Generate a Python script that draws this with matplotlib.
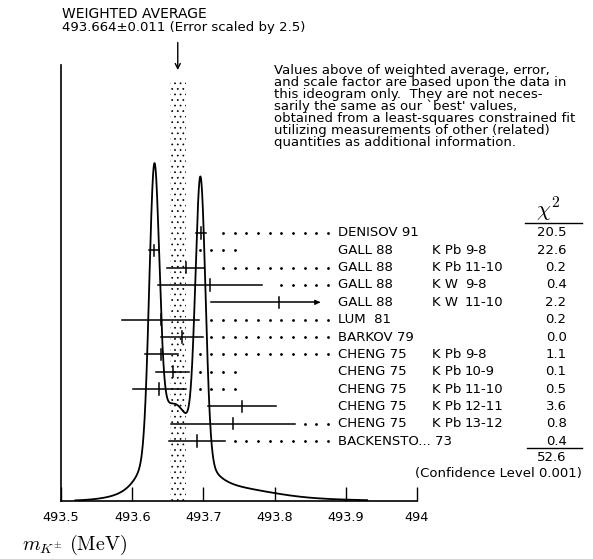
import numpy as np
import matplotlib
matplotlib.use("Agg")
import matplotlib.pyplot as plt

plt.rcParams["font.family"] = ["DejaVu Sans"]
plt.rcParams["mathtext.fontset"] = "cm"
plt.rcParams["hatch.linewidth"] = 0.5

# measurements (MeV)
names = ["DENISOV 91", "GALL 88", "GALL 88", "GALL 88", "GALL 88", "LUM  81",
         "BARKOV 79", "CHENG 75", "CHENG 75", "CHENG 75", "CHENG 75", "CHENG 75",
         "BACKENSTO... 73"]
targets = ["", "K Pb", "K Pb", "K W", "K W", "", "", "K Pb", "K Pb", "K Pb", "K Pb", "K Pb", ""]
transitions = ["", "9-8", "11-10", "9-8", "11-10", "", "", "9-8", "10-9", "11-10", "12-11", "13-12", ""]
values = [493.696, 493.631, 493.675, 493.709, 493.806, 493.640, 493.670,
          493.641, 493.657, 493.638, 493.754, 493.742, 493.691]
errors = [0.007, 0.007, 0.026, 0.073, 0.095, 0.054, 0.029,
          0.023, 0.023, 0.037, 0.048, 0.087, 0.040]
chi2 = ["20.5", "22.6", "0.2", "0.4", "2.2", "0.2", "0.0",
        "1.1", "0.1", "0.5", "3.6", "0.8", "0.4"]
leaders = ["full", "short", "full", "full", "full", "full", "full",
           "full", "short", "short", "none", "full", "full"]

avg, avg_err = 493.664, 0.011
chi2_total = "52.6"
conf_level = "0.001"

W, H = 593, 559
fig = plt.figure(figsize=(W / 100, H / 100), dpi=100)
ax = fig.add_axes([61 / W, 58 / H, 356 / W, 436 / H])
ax.set_xlim(493.5, 494.0)
ax.set_ylim(0, 1)

# ideogram: gaussians with area ~ 1/sigma
x = np.linspace(493.52, 493.93, 2000)
v = np.array(values)
e = np.array(errors)
curve = (np.exp(-0.5 * ((x[:, None] - v) / e) ** 2) / e ** 2).sum(axis=1)
curve = curve / curve.max() * 0.775
ax.plot(x, curve, color="black", lw=1.3)

# weighted average band
ax.fill_betweenx([0, 0.96], avg - avg_err, avg + avg_err, facecolor="white",
                 edgecolor="black", hatch="...", linewidth=0)
ax.annotate("", xy=(avg, 0.982), xytext=(avg, 1.058), xycoords="data",
            arrowprops=dict(arrowstyle="->", color="black", lw=1.0,
                            mutation_scale=9), annotation_clip=False)

for s in ["top", "right"]:
    ax.spines[s].set_visible(False)
ax.spines["left"].set_linewidth(1.2)
ax.spines["bottom"].set_linewidth(1.2)
ax.set_yticks([])
ax.set_xticks([493.5, 493.6, 493.7, 493.8, 493.9, 494.0])
ax.set_xticklabels(["493.5", "493.6", "493.7", "493.8", "493.9", "494"])
ax.tick_params(axis="x", direction="in", length=10, width=1.0, labelsize=9.3, pad=7)

# rows on a second y scale
ax2 = ax.twinx()
ax2.set_ylim(15.46, -9.69)
ax2.axis("off")

fs = 9.5
x_cut = 493.868
dots = 493.695 + 0.01636 * np.arange(12)
for i in range(len(values)):
    lo, hi = values[i] - errors[i], values[i] + errors[i]
    if hi > x_cut:
        ax2.plot([lo, x_cut - 0.008], [i, i], color="black", lw=1.1)
        ax2.annotate("", xy=(x_cut, i), xytext=(x_cut - 0.010, i),
                     arrowprops=dict(arrowstyle="-|>", color="black", lw=1.0,
                                     mutation_scale=7))
    else:
        ax2.plot([lo, hi], [i, i], color="black", lw=1.1)
        d = dots[dots > hi + 0.0112]
        if leaders[i] == "short":
            d = dots[:4]
        elif leaders[i] == "none":
            d = dots[:0]
        ax2.plot(d, [i] * len(d), ls="none", marker="o", ms=1.0, color="black")
    ax2.plot([values[i], values[i]], [i - 0.33, i + 0.33], color="black", lw=1.1)
    ax2.text(493.889, i, names[i], fontsize=fs, va="center", ha="left", clip_on=False)
    ax2.text(494.021, i, targets[i], fontsize=fs, va="center", ha="left", clip_on=False)
    ax2.text(494.067, i, transitions[i], fontsize=fs, va="center", ha="left", clip_on=False)
    ax2.text(494.210, i, chi2[i], fontsize=fs, va="center", ha="right", clip_on=False)

n = len(values)
ax2.plot([494.152, 494.232], [-0.58, -0.58], color="black", lw=1.0, clip_on=False)
ax2.text(494.184, -0.92, r"$\chi^2$", fontsize=16, ha="center", va="baseline", clip_on=False)
ax2.plot([494.154, 494.232], [n - 0.6, n - 0.6], color="black", lw=1.0, clip_on=False)
ax2.text(494.210, n - 0.07, chi2_total, fontsize=fs, va="center", ha="right", clip_on=False)
ax2.text(494.232, n + 0.9, "(Confidence Level " + conf_level + ")", fontsize=fs,
         va="center", ha="right", clip_on=False)

note = ("Values above of weighted average, error,\n"
        "and scale factor are based upon the data in\n"
        "this ideogram only.  They are not neces-\n"
        "sarily the same as our `best' values,\n"
        "obtained from a least-squares constrained fit\n"
        "utilizing measurements of other (related)\n"
        "quantities as additional information.")
fig.text(274 / W, 1 - 64 / H, note, fontsize=9.5, va="top", ha="left", linespacing=0.9)

fig.text(62 / W, 1 - 14 / H, "WEIGHTED AVERAGE", fontsize=10, va="center", ha="left")
fig.text(62 / W, 1 - 27 / H, "493.664\u00b10.011 (Error scaled by 2.5)", fontsize=9.5,
         va="center", ha="left")
fig.text(22 / W, 1 - 545 / H, r"$m_{K^{\pm}}\ (\mathrm{MeV})$", fontsize=14.5,
         va="center", ha="left")

fig.savefig("out.png", dpi=100)
